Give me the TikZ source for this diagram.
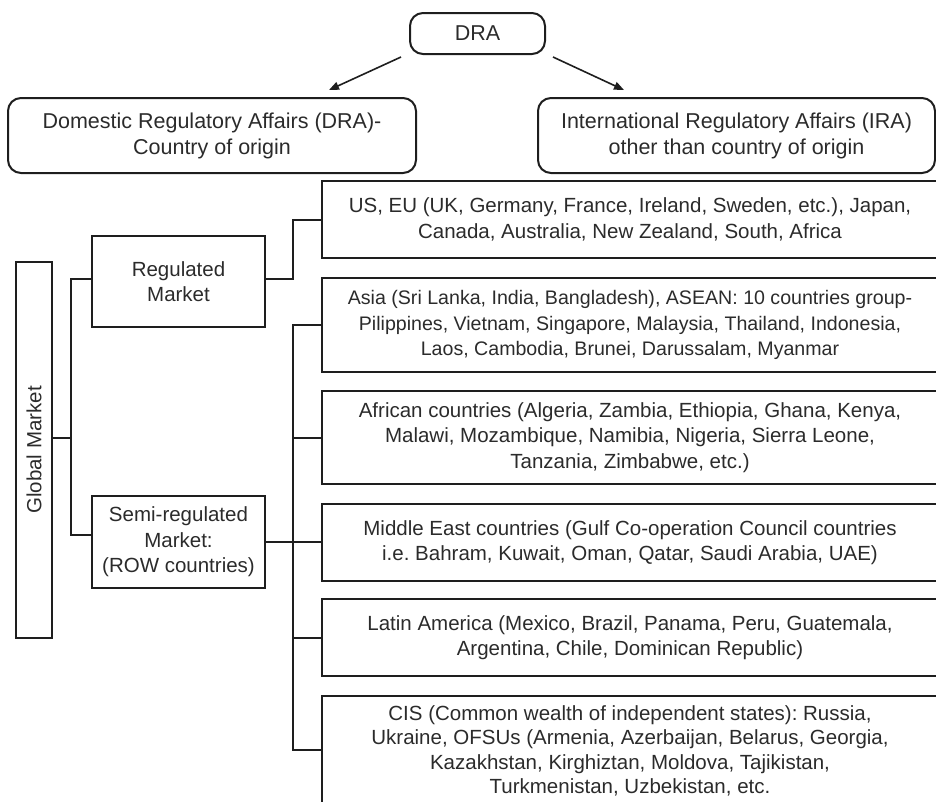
\documentclass[tikz,border=0pt]{standalone}
\usepackage{fontspec}
\setmainfont{Liberation Sans}
\usetikzlibrary{arrows.meta,calc}
\definecolor{linecol}{HTML}{1E1E1E}
\definecolor{textcol}{HTML}{2B2B2B}
\begin{document}
\frenchspacing
\begin{tikzpicture}[x=1pt,y=-1pt,
  box/.style={draw=linecol, line width=2pt, inner sep=0pt, align=center,
    font=\fontsize{20.5}{25.5}\selectfont, text=textcol},
  rbox/.style={box, rounded corners=13pt, font=\fontsize{21.5}{26}\selectfont},
  wire/.style={draw=linecol, line width=2pt},
  arrowline/.style={draw=linecol, line width=1.6pt, -{Triangle[length=10pt,width=8pt]}},
]
\useasboundingbox (0,0) rectangle (936,801);
\clip (0,0) rectangle (936,801);

% top level
\node[rbox, minimum width=135pt, minimum height=41pt] (dra) at (477.5,33.5) {DRA};
\node[rbox, minimum width=408pt, minimum height=75pt] (dom) at (212,135.5)
  {Domestic Regulatory Affairs (DRA)-\\Country of origin};
\node[rbox, minimum width=397pt, minimum height=75pt] (ira) at (736.5,135.5)
  {International Regulatory Affairs (IRA)\\other than country of origin};

\draw[arrowline] ($(dra.south west)+(-8,2)$) -- ($(dom.north east)+(-88,-7)$);
\draw[arrowline] ($(dra.south east)+(7,2)$) -- ($(ira.north west)+(87,-7)$);

% global market and its two branches
\node[box, rotate=90, minimum width=376pt, minimum height=36pt] (glob) at (34,450) {Global Market};
\node[box, minimum width=173pt, minimum height=91pt] (reg) at (178.5,281.5) {Regulated\\Market};
\node[box, minimum width=173pt, minimum height=92pt] (semi) at (178.5,542)
  {Semi-regulated\\Market:\\(ROW countries)};

% country groups
\node[box, minimum width=616pt, minimum height=77pt] (us) at (630,219.5)
  {US, EU (UK, Germany, France, Ireland, Sweden, etc.), Japan,\\Canada, Australia, New Zealand, South, Africa};
\node[box, minimum width=616pt, minimum height=94pt, font=\fontsize{19.6}{25.5}\selectfont] (asia) at (630,325)
  {Asia (Sri Lanka, India, Bangladesh), ASEAN: 10 countries group-\\Pilippines, Vietnam, Singapore, Malaysia, Thailand, Indonesia,\\Laos, Cambodia, Brunei, Darussalam, Myanmar};
\node[box, minimum width=616pt, minimum height=93pt] (afr) at (630,437.5)
  {African countries (Algeria, Zambia, Ethiopia, Ghana, Kenya,\\Malawi, Mozambique, Namibia, Nigeria, Sierra Leone,\\Tanzania, Zimbabwe, etc.)};
\node[box, minimum width=616pt, minimum height=77pt] (me) at (630,542.5)
  {Middle East countries (Gulf Co-operation Council countries\\i.e. Bahram, Kuwait, Oman, Qatar, Saudi Arabia, UAE)};
\node[box, minimum width=616pt, minimum height=77pt] (lat) at (630,637.5)
  {Latin America (Mexico, Brazil, Panama, Peru, Guatemala,\\Argentina, Chile, Dominican Republic)};
\node[box, minimum width=616pt, minimum height=110pt, font=\fontsize{20.5}{24.5}\selectfont] (cis) at (630,751)
  {CIS (Common wealth of independent states): Russia,\\Ukraine, OFSUs (Armenia, Azerbaijan, Belarus, Georgia,\\Kazakhstan, Kirghiztan, Moldova, Tajikistan,\\Turkmenistan, Uzbekistan, etc.};

% junction points of the tree
\coordinate (gj) at (71,438);
\coordinate (rk) at (293,250);
\coordinate (bb) at (293,750);

\draw[wire] (glob.south |- gj) -- (gj);
\draw[wire] ([yshift=2.5pt]reg.west) -| (gj) |- ([yshift=7pt]semi.west);
\draw[wire] ([yshift=2.5pt]reg.east) -| (rk) |- (us.west);
\draw[wire] (asia.west) -| (bb) -- (cis.west |- bb);
\draw[wire] (afr.west) -- (afr.west -| bb);
\draw[wire] (semi.east) -- (semi.east -| me.west);
\draw[wire] (lat.west) -- (lat.west -| bb);
\end{tikzpicture}
\end{document}
